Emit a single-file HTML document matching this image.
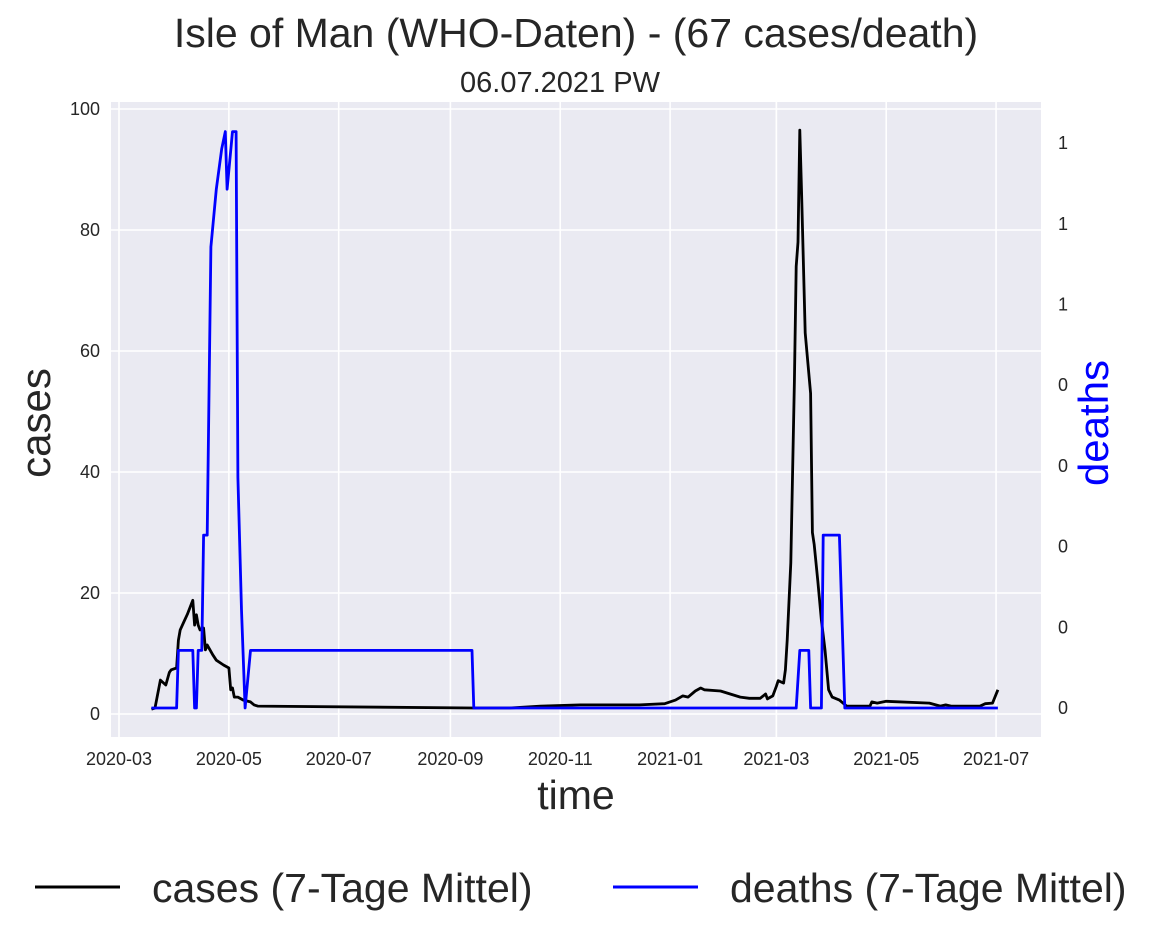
<!DOCTYPE html>
<html><head><meta charset="utf-8"><style>
html,body{margin:0;padding:0;background:#fff;width:1164px;height:941px;overflow:hidden;font-family:"Liberation Sans",sans-serif;}
svg text{font-family:"Liberation Sans",sans-serif;fill:#262626;}
</style></head><body>
<svg id="chart" width="1164" height="941" xmlns="http://www.w3.org/2000/svg">
<rect x="111" y="102" width="930" height="635" fill="#eaeaf2"/>
<g id="grid"></g>
<g id="xticks"></g>
<g id="lticks"></g>
<g id="rticks"></g>
<g id="series"></g>
<text x="576" y="47" font-size="41" text-anchor="middle">Isle of Man (WHO-Daten) - (67 cases/death)</text>
<text x="560" y="92" font-size="29" text-anchor="middle">06.07.2021 PW</text>
<text x="576" y="809" font-size="41" text-anchor="middle">time</text>
<text x="0" y="0" font-size="42" text-anchor="middle" transform="translate(50,423) rotate(-90)">cases</text>
<text x="0" y="0" font-size="42" text-anchor="middle" style="fill:#0000ff" transform="translate(1108,423) rotate(-90)">deaths</text>
<g>
<line x1="35" y1="887" x2="120" y2="887" stroke="#000" stroke-width="3"/>
<text x="152" y="902" font-size="41">cases (7-Tage Mittel)</text>
<line x1="613" y1="887" x2="698" y2="887" stroke="#0000ff" stroke-width="3"/>
<text x="730" y="902" font-size="41">deaths (7-Tage Mittel)</text>
</g>
</svg>
<script>
const xTickLabels=["2020-03","2020-05","2020-07","2020-09","2020-11","2021-01","2021-03","2021-05","2021-07"];
const leftTicks=[0,20,40,60,80,100];
const rightTicks=[0,0.2,0.4,0.6,0.8,1.0,1.2,1.4];
const caseDates=["2020-03-19","2020-03-21","2020-03-24","2020-03-27","2020-03-29","2020-03-30","2020-04-02","2020-04-03","2020-04-04","2020-04-06","2020-04-08","2020-04-11","2020-04-12","2020-04-13","2020-04-14","2020-04-15","2020-04-17","2020-04-18","2020-04-19","2020-04-22","2020-04-24","2020-04-28","2020-05-01","2020-05-02","2020-05-03","2020-05-04","2020-05-06","2020-05-09","2020-05-13","2020-05-15","2020-05-17","2020-09-14","2020-10-04","2020-10-21","2020-11-12","2020-11-23","2020-12-15","2020-12-29","2021-01-04","2021-01-08","2021-01-11","2021-01-15","2021-01-18","2021-01-20","2021-01-29","2021-02-09","2021-02-14","2021-02-20","2021-02-23","2021-02-24","2021-02-27","2021-03-01","2021-03-02","2021-03-05","2021-03-06","2021-03-07","2021-03-09","2021-03-10","2021-03-11","2021-03-12","2021-03-13","2021-03-14","2021-03-15","2021-03-17","2021-03-20","2021-03-21","2021-03-22","2021-03-24","2021-03-26","2021-03-28","2021-03-30","2021-04-01","2021-04-05","2021-04-09","2021-04-16","2021-04-22","2021-04-23","2021-04-26","2021-05-01","2021-05-25","2021-05-31","2021-06-03","2021-06-06","2021-06-22","2021-06-25","2021-06-29","2021-07-02"];
const caseValues=[0.8,1,5.6,4.8,6.9,7.3,7.6,12.2,13.9,15.2,16.5,18.8,14.7,16.4,14.7,13.9,14.2,10.6,11.4,9.8,8.9,8.1,7.6,4,4.3,2.8,2.8,2.3,2,1.5,1.3,1.0,1.0,1.3,1.5,1.5,1.5,1.7,2.3,3.0,2.8,3.8,4.3,4,3.8,2.8,2.6,2.6,3.3,2.5,3,4.6,5.5,5.1,7.3,12.2,25,40,55,74,78,96.5,86,63,53,30,28,22,15.5,10.6,4,2.8,2.3,1.3,1.3,1.3,2,1.8,2.1,1.8,1.3,1.5,1.3,1.3,1.7,1.8,4];
const deathDates=["2020-03-19","2020-04-02","2020-04-03","2020-04-11","2020-04-12","2020-04-13","2020-04-14","2020-04-16","2020-04-17","2020-04-19","2020-04-21","2020-04-24","2020-04-27","2020-04-29","2020-04-30","2020-05-03","2020-05-05","2020-05-06","2020-05-08","2020-05-10","2020-05-13","2020-09-13","2020-09-14","2021-03-12","2021-03-14","2021-03-19","2021-03-20","2021-03-26","2021-03-27","2021-04-05","2021-04-08","2021-07-02"];
const deathSevenths=[0,0,1,1,0,0,1,1,3,3,8,9,9.7,10,9,10,10,4,1.7,0,1,1,0,0,1,1,0,0,3,3,0,0];

const NS="http://www.w3.org/2000/svg";
const L=111,R=1041,T=102,B=737;
const day0=Date.UTC(2020,2,1);
function dayOf(s){const p=s.split("-").map(Number);return (Date.UTC(p[0],p[1]-1,p[2]||1)-day0)/86400000;}
function xs(s){return 119+dayOf(s)*1.801;}
function yl(v){return 714-v*6.05;}
function yr(v){return 708-v*403.5;}
function mk(tag,attrs,parent){const e=document.createElementNS(NS,tag);for(const k in attrs)e.setAttribute(k,attrs[k]);parent.appendChild(e);return e;}
const grid=document.getElementById("grid"),xt=document.getElementById("xticks"),lt=document.getElementById("lticks"),rt=document.getElementById("rticks"),se=document.getElementById("series");
xTickLabels.forEach(t=>{const x=xs(t);
 const g=mk("line",{x1:x,x2:x,y1:T,y2:B,stroke:"#fff","stroke-width":1.6},grid);
 
 
 const tx=mk("text",{x:x,y:B+28,"font-size":18,"text-anchor":"middle"},xt);tx.textContent=t;
 
 
});
leftTicks.forEach(v=>{const y=yl(v);
 const g=mk("line",{x1:L,x2:R,y1:y,y2:y,stroke:"#fff","stroke-width":1.6},grid);
 
 
 const tx=mk("text",{x:100,y:y+6,"font-size":18,"text-anchor":"end"},lt);tx.textContent=v;
 
 
});
rightTicks.forEach(v=>{const y=yr(v);
 const tx=mk("text",{x:1058,y:y+6,"font-size":18},rt);tx.textContent=Math.floor(v+1e-9).toString();
 
 
});
const cp=caseDates.map((d,i)=>xs(d).toFixed(1)+","+yl(caseValues[i]).toFixed(1)).join(" ");
const c=mk("polyline",{points:cp,fill:"none",stroke:"#000","stroke-width":2.8,"stroke-linejoin":"round"},se);


const dp=deathDates.map((d,i)=>xs(d).toFixed(1)+","+yr(deathSevenths[i]/7).toFixed(1)).join(" ");
const dl=mk("polyline",{points:dp,fill:"none",stroke:"#0000ff","stroke-width":2.8,"stroke-linejoin":"round"},se);


</script>
</body></html>
